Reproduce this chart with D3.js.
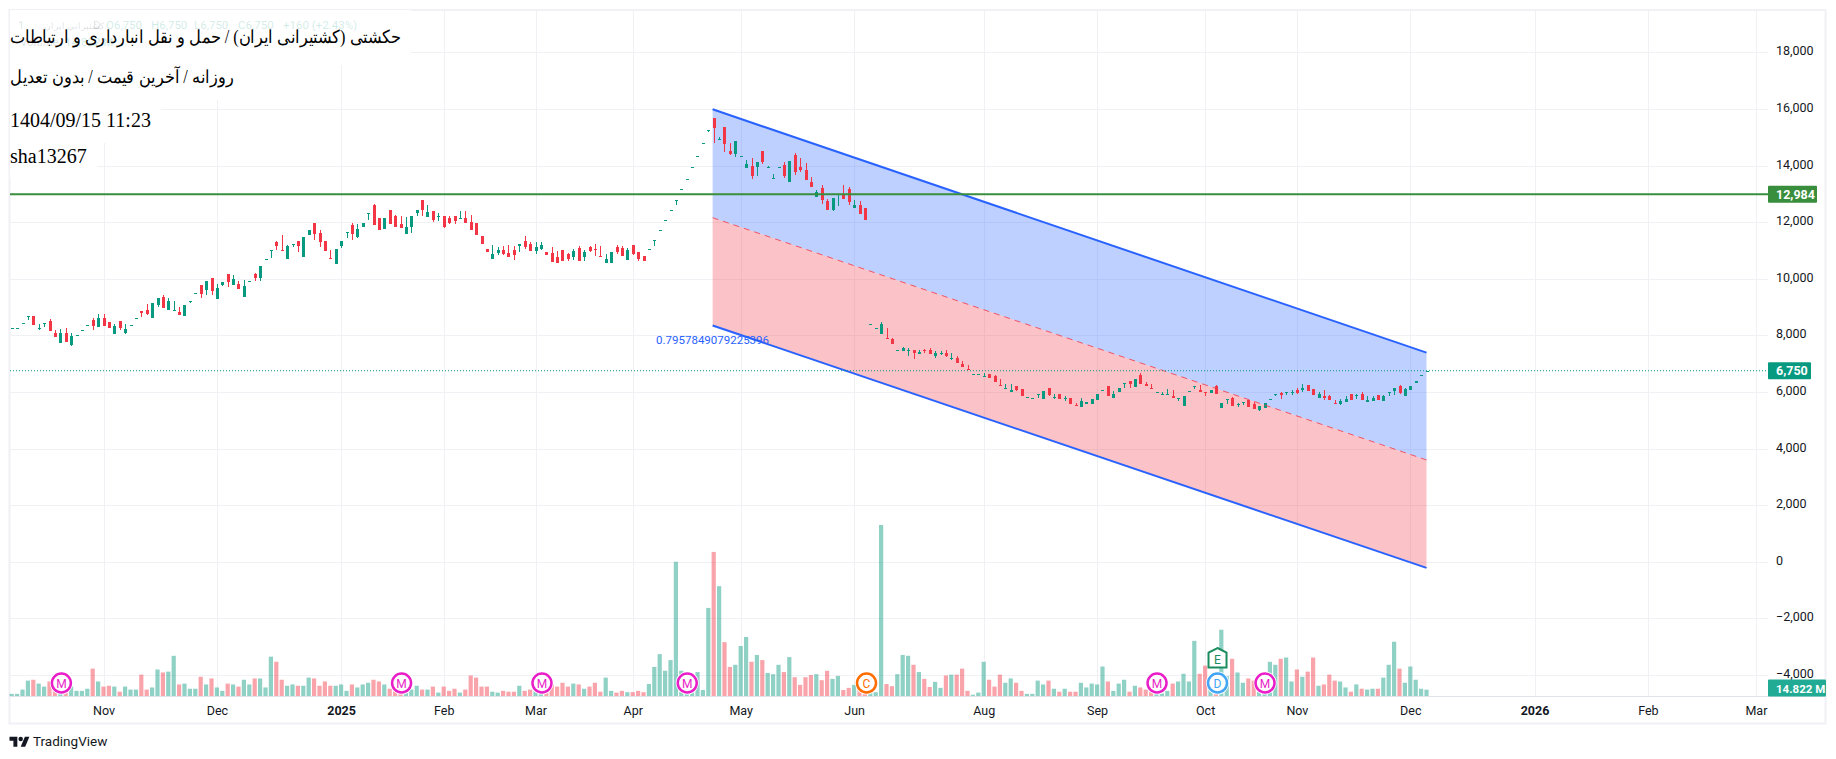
<!DOCTYPE html>
<html>
  <head>
    <meta charset="utf-8">
    <title>حکشتی</title>
    <style type="text/css">
      html, body { margin: 0; padding: 0; background: #fff; }
      svg { display: block; }
      .axis text { font-family: Roboto, sans-serif; font-size: 12.5px; fill: #131722; }
      .axis path { display: none; }
      .axis line { stroke: #f0f1f4; stroke-width: 1; shape-rendering: crispEdges; }
      .head { font-family: "Liberation Serif", serif; font-size: 20px; fill: #000; }
      .tag { font-family: Roboto, sans-serif; font-size: 12.5px; font-weight: 700; fill: #fff; }
    </style>
    <script src="https://d3js.org/d3.v7.min.js"></script>
  </head>
  <body>
    <svg class="chart" width="1836" height="759"></svg>
    <script>

// daily bars
var opens = [
  8250,8250,8420,8650,8680,8220,8400,8510,8080,7730,
  8080,7660,8000,8180,8350,8540,8300,8610,8470,8050,
  8510,8080,8350,8600,8860,8900,8610,9070,9360,8900,
  8860,8830,8680,9180,9490,9780,9600,10030,9290,9780,
  10170,9780,9820,9360,9910,10170,10030,10690,10990,11300,
  11020,10700,11200,11340,10770,11550,11980,11620,11340,10740,
  10530,11160,11620,11910,11480,11840,12290,12610,12150,11760,
  12440,12220,11940,11590,11840,12330,12790,12190,12400,12190,
  12220,12150,12220,12120,12150,12010,11980,11520,11060,10710,
  10920,11020,10920,11020,11160,11340,11240,10990,11060,10950,
  10920,10780,11020,10880,10780,11090,10780,11130,11060,10810,
  10570,10570,11130,11090,10670,11200,10950,10810,11050,11340,
  11720,12070,12420,12750,13160,13540,13930,14350,14780,15220,
  15680,14900,15360,14510,14400,14350,13910,13980,13940,14510,
  13930,13530,13930,14010,13410,14370,13940,13830,13410,12880,
  13200,12740,12420,12950,12950,13160,12490,12600,12490,8390,
  8250,8050,7910,7870,7470,7450,7450,7480,7340,7470,
  7480,7270,7350,7380,7170,7200,6990,6810,6620,6620,
  6540,6640,6570,6250,6120,6000,6210,6110,5810,5780,
  5890,5750,6140,5790,5930,5750,5790,5540,5470,5580,
  5580,5720,6060,6210,5790,6000,6280,6390,6180,6600,
  6280,6140,6000,5890,5890,5860,5750,5510,6020,6160,
  6070,6000,5960,6210,5440,5720,5790,5540,5610,5720,
  5590,5380,5450,5750,5910,5980,5990,5990,6080,6080,
  6260,6120,5800,5870,5870,5620,5590,5660,5940,5880,
  5940,5660,5690,5910,5690,5980,6050,6220,5840,6080,
  6330,6600,6750];
var highs = [
  8250,8250,8420,8690,8680,8390,8440,8570,8190,8220,
  8260,8080,8000,8180,8350,8610,8760,8760,8470,8400,
  8510,8400,8350,8600,8860,9110,9150,9320,9430,9320,
  9220,9000,9070,9220,9490,9780,9920,10030,9820,9890,
  10170,10140,9920,9960,9910,10210,10450,10690,11020,11340,
  11550,11200,11230,11340,11480,11730,11980,11730,11340,11020,
  11060,11340,11660,11980,11940,11980,12320,12650,12150,12150,
  12440,12260,12220,12190,12220,12440,12790,12610,12400,12330,
  12220,12220,12220,12400,12400,12260,11980,11520,11060,11200,
  11130,11160,11200,11160,11240,11520,11310,11310,11310,10950,
  11130,10990,11020,10920,11060,11160,11020,11160,11240,11160,
  10880,10950,11200,11160,11090,11200,10950,10810,11050,11380,
  11720,12070,12420,12790,13160,13540,13930,14350,14780,15240,
  15680,15000,15360,14790,14860,14350,14190,14260,14120,14510,
  13980,13690,13930,14120,14150,14440,14260,14080,13590,13130,
  13300,12810,12840,12990,13300,13230,12770,12740,12490,8390,
  8250,8470,8260,7910,7470,7590,7550,7480,7480,7520,
  7550,7450,7450,7480,7380,7270,7090,6950,6620,6620,
  6670,6640,6600,6460,6280,6280,6210,6110,5810,5780,
  5920,6040,6140,5930,5930,5860,5790,5610,5790,5650,
  5750,5930,6060,6210,6040,6140,6320,6390,6460,6670,
  6350,6280,6000,6000,6110,6070,5780,5860,6020,6200,
  6250,6000,6070,6250,5610,5750,5820,5610,5640,5720,
  5660,5520,5620,5750,5930,6010,6010,6080,6150,6290,
  6260,6120,6010,6080,5910,5730,5760,5870,5940,5940,
  6010,5840,5840,5910,5910,6010,6150,6260,6150,6220,
  6390,6600,6750];
var lows = [
  8250,8250,8420,8540,8370,8190,8300,8150,7940,7730,
  7760,7620,8000,8180,8350,8190,8300,8330,8260,8050,
  8190,8050,8350,8600,8650,8720,8610,9000,8970,8900,
  8860,8720,8680,9150,9490,9320,9430,9430,9290,9750,
  9710,9780,9640,9360,9910,9920,9920,10690,10740,11020,
  10990,10700,11130,10950,10770,11550,11380,11130,10990,10700,
  10530,11090,11450,11380,11450,11840,12080,11910,11730,11760,
  11940,11840,11800,11590,11620,12220,12220,12190,12010,12050,
  11800,11940,11940,12120,11980,11730,11550,11240,10950,10710,
  10850,10850,10780,10670,10950,11060,10990,10880,11020,10850,
  10600,10570,10640,10640,10670,10640,10640,10950,10810,10780,
  10570,10570,10880,10810,10670,10850,10640,10640,11050,11160,
  11720,12070,12420,12610,13160,13540,13930,14350,14780,15180,
  14790,14900,14470,14370,14300,14350,13910,13520,13620,14050,
  13900,13530,13930,13550,13410,13660,13760,13480,13230,12880,
  12630,12420,12380,12560,12810,12600,12490,12280,12060,8390,
  8250,8050,7870,7700,7470,7450,7270,7170,7340,7370,
  7340,7200,7310,7240,7130,7020,6880,6780,6620,6620,
  6540,6490,6350,6210,6120,6000,6040,5860,5810,5780,
  5790,5750,5860,5750,5750,5680,5580,5510,5470,5580,
  5580,5720,6060,5860,5790,6000,6140,6140,6180,6280,
  6210,6110,6000,5890,5890,5790,5680,5510,6020,6110,
  6000,5860,5960,5930,5440,5580,5510,5470,5540,5470,
  5410,5310,5450,5750,5870,5760,5910,5910,5940,6010,
  6050,5910,5800,5730,5730,5600,5550,5660,5730,5760,
  5730,5660,5690,5730,5690,5870,5910,5940,5840,6080,
  6330,6600,6750];
var closes = [
  8250,8250,8420,8690,8370,8260,8440,8150,7940,8080,
  7760,7980,8000,8180,8350,8330,8610,8330,8260,8330,
  8260,8220,8350,8600,8790,8760,9150,9320,8970,9220,
  8900,8720,9070,9220,9490,9460,9920,9570,9680,9890,
  9890,9990,9640,9750,9910,10030,10450,10690,11020,11160,
  10990,11160,11230,11160,11480,11730,11590,11300,10990,10700,
  11060,11340,11660,11590,11760,11980,12320,11910,11730,12150,
  11940,11840,11800,11840,12220,12440,12440,12360,12080,12220,
  11840,11980,12050,12150,11980,11730,11550,11240,10950,10880,
  11020,10880,10780,10850,11240,11130,10990,11130,11200,10850,
  10600,10570,10640,10710,10990,10640,10950,10990,11020,10780,
  10710,10950,10950,10810,11020,10880,10710,10640,11050,11380,
  11720,12070,12420,12790,13160,13540,13930,14350,14780,15240,
  15320,14920,14760,14400,14860,14350,14050,13620,14120,14120,
  13930,13550,13930,13620,14150,13760,13830,13480,13230,13060,
  12770,12420,12840,12990,12810,12700,12600,12280,12060,8390,
  8250,8400,7870,7700,7470,7550,7480,7380,7410,7440,
  7340,7380,7380,7270,7190,7020,6880,6780,6620,6620,
  6570,6490,6350,6210,6140,6070,6070,5860,5810,5780,
  5920,6040,5890,5820,5750,5790,5580,5510,5680,5650,
  5750,5930,6060,5860,5930,6140,6320,6280,6460,6280,
  6210,6110,6000,5930,5930,5790,5780,5860,6020,6200,
  6000,5960,6070,5930,5610,5750,5510,5560,5640,5470,
  5410,5520,5620,5750,5930,5910,6010,6010,5980,6150,
  6050,5910,5940,5800,5730,5600,5690,5760,5730,5910,
  5730,5730,5800,5730,5840,6010,6150,5980,6120,6220,
  6390,6600,6750];
// volume in millions
var volumes = [
  5,5,15,36,38,29,22,34,38,11,
  11,22,12,12,17,64,34,22,24,22,
  10,22,15,15,50,15,20,62,55,57,
  94,27,29,17,17,45,27,41,20,12,
  29,27,22,38,27,41,41,20,92,80,
  38,24,27,24,24,43,41,24,34,24,
  24,27,12,27,20,27,31,38,34,27,
  17,11,11,11,15,24,15,15,22,8,
  22,12,17,8,15,48,43,22,22,10,
  8,12,10,10,24,12,15,12,11,15,
  27,22,31,22,29,27,17,22,31,10,
  43,12,8,12,9,9,12,9,28,68,
  98,59,84,314,59,14,18,56,14,206,
  337,257,126,68,73,117,138,80,96,84,
  54,51,73,56,91,44,26,44,49,51,
  37,59,40,47,14,19,26,23,23,12,
  9,400,28,23,51,96,94,73,56,40,
  21,33,19,48,50,50,64,12,3,8,
  80,38,22,50,31,41,31,12,5,5,
  36,27,36,17,10,17,10,10,31,20,
  29,27,69,34,12,29,38,10,24,20,
  15,13,8,6,12,29,34,52,34,129,
  52,71,31,6,155,47,87,55,31,41,
  36,15,23,80,73,87,90,34,62,45,
  57,90,24,27,50,36,34,20,10,27,
  17,15,17,17,43,73,127,64,31,69,
  38,17,14.822];

var priceTicks = [18000,16000,14000,12000,10000,8000,6000,4000,2000,0,-2000,-4000];
var timeBars = [17,38,61,80,97,115,135,156,180,201,221,238,259,282,303,323];
var timeLabels = ["Nov","Dec","2025","Feb","Mar","Apr","May","Jun","Aug","Sep","Oct","Nov","Dec","2026","Feb","Mar"];

// drawing tool: [bar, price] at the start and end of each channel line
var channelBars = [129.8,262];
var channelTop = [15986,7388];
var channelMid = [12157,3598];
var channelBottom = [8349,-217];

var stopLevel = 12984;
var lastClose = 6750;

var eventBars = [9.2,72.2,98.2,125.1,158.3,212.1,223.3,232.1];
var eventKinds = ["M","M","M","M","C","M","D","M"];
var earningsBar = 223.3;

var legendTexts = ["O6,750","H6,750","L6,750","C6,750","+160 (+2.43%)"];
var legendStarts = [106,151,194,238,283];

var svg = d3.select(".chart");
var up = "#089981", down = "#f23645";

var x = d3.scaleLinear().domain([0,262]).range([11.7,1426.5]);
var y = d3.scaleLinear().domain([18000,-4000]).range([52.3,675]);
var yVol = d3.scaleLinear().domain([0,400]).range([696,525]);

// frame
svg.append("rect").attr("x",9.5).attr("y",10).attr("width",1816).attr("height",713.5)
  .attr("fill","#fff").attr("stroke","#f0f0f6").attr("stroke-width",2);

// grid comes with the axes
var yAxis = d3.axisRight(y).tickValues(priceTicks).tickSize(0).tickPadding(0).tickFormat(d3.format(","));
var gy = svg.append("g").attr("class","axis").attr("transform","translate(1776,0)").call(yAxis);
gy.selectAll(".tick line").attr("x1",-1766).attr("x2",-8);
gy.selectAll(".tick text").attr("x",0).attr("dy","0.2em");

var xAxis = d3.axisBottom(x).tickValues(timeBars).tickSize(0).tickPadding(0)
  .tickFormat(function(d,i){ return timeLabels[i]; });
var gx = svg.append("g").attr("class","axis").attr("transform","translate(0,696)").call(xAxis);
gx.selectAll(".tick line").attr("y1",-686).attr("y2",0);
gx.selectAll(".tick text").attr("y",18.5).attr("dy",0)
  .style("font-weight",function(d,i){ return /^20/.test(timeLabels[i]) ? 700 : 400; });

svg.append("line").attr("x1",10).attr("x2",1826).attr("y1",696).attr("y2",696)
  .attr("stroke","#e0e3eb").attr("stroke-width",1).attr("shape-rendering","crispEdges");

// white patches behind the caption block
var patches = [[10,10,401,55],[10,65,231,35],[10,100,151,43],[10,143,87,35]];
svg.selectAll("rect.patch").data(patches).enter().append("rect").attr("class","patch")
  .attr("x",function(d){return d[0];}).attr("y",function(d){return d[1];})
  .attr("width",function(d){return d[2];}).attr("height",function(d){return d[3];})
  .attr("fill","#fff");

// channel fills
var i0 = channelBars[0], i1 = channelBars[1];
function band(a,b){
  return d3.line()([[x(i0),y(a[0])],[x(i1),y(a[1])],[x(i1),y(b[1])],[x(i0),y(b[0])]])+"Z";
}
svg.append("path").attr("d",band(channelTop,channelMid)).attr("fill","#2962ff").attr("fill-opacity",0.3);
svg.append("path").attr("d",band(channelMid,channelBottom)).attr("fill","#f23645").attr("fill-opacity",0.3);

// volume
svg.append("g").selectAll("rect").data(volumes).enter().append("rect")
  .attr("x",function(d,i){ return x(i)-2.1; })
  .attr("width",4.2)
  .attr("y",function(d){ return yVol(d); })
  .attr("height",function(d){ return 696-yVol(d); })
  .attr("fill",function(d,i){ return closes[i]>=opens[i] ? up : down; })
  .attr("fill-opacity",0.45);

// candles
var candles = svg.append("g").attr("shape-rendering","crispEdges")
  .selectAll("g").data(closes).enter().append("g")
  .attr("fill",function(d,i){ return d>=opens[i] ? up : down; });
candles.append("rect")
  .attr("x",function(d,i){ return Math.round(x(i)); })
  .attr("width",1)
  .attr("y",function(d,i){ return y(highs[i]); })
  .attr("height",function(d,i){ return y(lows[i])-y(highs[i]); });
candles.append("rect")
  .attr("x",function(d,i){ return Math.round(x(i))-1; })
  .attr("width",3)
  .attr("y",function(d,i){ return y(Math.max(d,opens[i])); })
  .attr("height",function(d,i){ return Math.max(1,Math.abs(y(d)-y(opens[i]))); });

// channel lines
function edge(a){ return d3.line()([[x(i0),y(a[0])],[x(i1),y(a[1])]]); }
svg.append("path").attr("d",edge(channelMid)).attr("fill","none")
  .attr("stroke",down).attr("stroke-width",1).attr("stroke-dasharray","6 5").attr("stroke-opacity",0.8);
[channelTop,channelBottom].forEach(function(a){
  svg.append("path").attr("d",edge(a)).attr("fill","none").attr("stroke","#2962ff").attr("stroke-width",2);
});
svg.append("text").attr("x",769).attr("y",344).attr("text-anchor","end")
  .style("font-family","Roboto, sans-serif").style("font-size","11.5px").attr("fill","#2962ff")
  .text("0.7957849079225396");

// level lines
svg.append("line").attr("x1",10).attr("x2",1768).attr("y1",y(stopLevel)).attr("y2",y(stopLevel))
  .attr("stroke","#388e3c").attr("stroke-width",2);
svg.append("line").attr("x1",10).attr("x2",1768).attr("y1",y(lastClose)).attr("y2",y(lastClose))
  .attr("stroke",up).attr("stroke-width",1).attr("stroke-dasharray","1 2");

// price tags
function tag(yMid,w,color,label,size){
  svg.append("rect").attr("x",1768).attr("y",yMid-8.5).attr("width",w).attr("height",17).attr("rx",1).attr("fill",color);
  svg.append("text").attr("class","tag").attr("x",1776).attr("y",yMid+4.5).style("font-size",size).text(label);
}
tag(y(stopLevel),49,"#388e3c",d3.format(",")(stopLevel),"12.5px");
tag(y(lastClose),43,up,d3.format(",")(lastClose),"12.5px");
tag(688,58,"#22ab94",volumes[volumes.length-1].toFixed(3)+" M","11.5px");

// event badges
var badgeColor = {M:"#e91ec8",C:"#ff6d00",D:"#42a5f5"};
var badges = svg.append("g").selectAll("g").data(eventBars).enter().append("g")
  .attr("transform",function(d){ return "translate("+x(d)+",683)"; });
badges.append("circle").attr("r",11.5).attr("fill","#fff");
badges.append("circle").attr("r",9.5).attr("fill","#fff")
  .attr("stroke",function(d,i){ return badgeColor[eventKinds[i]]; }).attr("stroke-width",2.5);
badges.append("text").attr("text-anchor","middle").attr("y",4.5)
  .style("font-family","Roboto, sans-serif").style("font-size","12px")
  .attr("fill",function(d,i){ return badgeColor[eventKinds[i]]; })
  .text(function(d,i){ return eventKinds[i]; });

var earn = svg.append("g").attr("transform","translate("+x(earningsBar)+",658)");
earn.append("path").attr("d","M0,-10L9,-5.5V9.5H-9V-5.5Z").attr("fill","#fff").attr("stroke","#1b8c5e").attr("stroke-width",2);
earn.append("text").attr("text-anchor","middle").attr("y",5.5).style("font-family","Roboto, sans-serif")
  .style("font-size","12px").attr("fill","#1b8c5e").text("E");

// faint legend under the caption
var faint = svg.append("g").style("font-family","Roboto, sans-serif").style("font-size","11.5px");
faint.selectAll("text.ohlc").data(legendTexts).enter().append("text").attr("class","ohlc")
  .attr("x",function(d,i){ return legendStarts[i]; }).attr("y",29)
  .attr("fill","#089981").attr("fill-opacity",0.2).text(function(d){ return d; });
faint.append("text").attr("x",18).attr("y",29).attr("fill","#131722").attr("fill-opacity",0.15).text("1");
faint.append("text").attr("x",44).attr("y",29).style("font-size","9px").attr("fill","#131722").attr("fill-opacity",0.15).text("کشتیرانی ایران");
faint.append("text").attr("x",93).attr("y",29).attr("fill","#131722").attr("fill-opacity",0.15).text("D");
faint.append("text").attr("x",20).attr("y",46).attr("fill","#131722").attr("fill-opacity",0.15).text("Volume");
faint.append("text").attr("x",65).attr("y",46).attr("fill","#089981").attr("fill-opacity",0.2).text("14.822 M");

// caption
svg.append("text").attr("class","head").attr("x",401).attr("y",43).attr("direction","rtl").attr("text-anchor","start")
  .attr("textLength",391).attr("lengthAdjust","spacingAndGlyphs").style("font-size","18px")
  .text("حکشتی (کشتیرانی ایران) / حمل و نقل انبارداری و ارتباطات");
svg.append("text").attr("class","head").attr("x",234).attr("y",83).attr("direction","rtl").attr("text-anchor","start")
  .attr("textLength",224).attr("lengthAdjust","spacingAndGlyphs").style("font-size","18px")
  .text("روزانه / آخرین قیمت / بدون تعدیل");
svg.append("text").attr("class","head").attr("x",10).attr("y",127).text("1404/09/15 11:23");
svg.append("text").attr("class","head").attr("x",10).attr("y",163).text("sha13267");

// logo
var logo = svg.append("g").attr("transform","translate(9.5,734.5) scale(0.56)").attr("fill","#131722");
logo.append("path").attr("d","M14 22H7V11H0V4h14v18zM28 22h-8l7.5-18h8L28 22z");
logo.append("circle").attr("cx",20).attr("cy",8).attr("r",4);
svg.append("text").attr("x",33).attr("y",745.5).style("font-family","Roboto, sans-serif").style("font-size","13.5px")
  .attr("fill","#131722").text("TradingView");

</script>
  </body>
</html>
